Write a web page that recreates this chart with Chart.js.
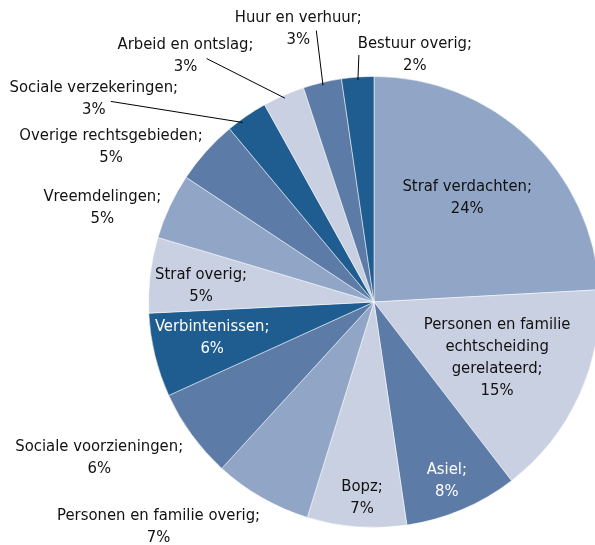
<!DOCTYPE html>
<html>
<head>
<meta charset="utf-8">
<script src="https://cdn.jsdelivr.net/npm/chart.js@4.4.0/dist/chart.umd.min.js"></script>
<style>
  html, body { margin: 0; padding: 0; background: #fff; overflow: hidden; width: 595px; height: 545px; }
  canvas { position: absolute; left: 0; top: 0; }
</style>
</head>
<body>
<canvas id="pie" width="748" height="604"></canvas>
<script>
// categories (each entry split in the lines as shown in the chart)
const categories = [
    ["Straf verdachten;"],
    ["Personen en familie", "echtscheiding", "gerelateerd;"],
    ["Asiel;"],
    ["Bopz;"],
    ["Personen en familie overig;"],
    ["Sociale voorzieningen;"],
    ["Verbintenissen;"],
    ["Straf overig;"],
    ["Vreemdelingen;"],
    ["Overige rechtsgebieden;"],
    ["Sociale verzekeringen;"],
    ["Arbeid en ontslag;"],
    ["Huur en verhuur;"],
    ["Bestuur overig;"],
];
const shares = [24.1, 15.4, 8.1, 7.1, 7.0, 6.4, 6.0, 5.4, 4.7, 4.6, 3.0, 3.0, 2.75, 2.3];
const shareLabels = ["24%", "15%", "8%", "7%", "7%", "6%", "6%", "5%", "5%", "5%", "3%", "3%", "3%", "2%"];

const LIGHT = "#c8d0e2", STEEL = "#91a5c6", MID = "#5c7ba7", DARK = "#1f5c8f";
const sliceColors = [STEEL, LIGHT, MID, LIGHT, STEEL, MID, DARK, LIGHT, STEEL, MID, DARK, LIGHT, MID, DARK];

// where each label sits: angle (deg, clockwise from top), distance in radii,
// optional leader line end relative to the label centre (tip = angle where it touches the pie)
const placement = [
    { a: 41.8, d: 0.62 },
    { a: 114.5, d: 0.60 },
    { a: 157.8, d: 0.855, white: true },
    { a: 183.5, d: 0.87 },
    { a: 223.8, d: 1.38 },
    { a: 240.5, d: 1.40 },
    { a: 257.5, d: 0.735, white: true },
    { a: 275.3, d: 0.77 },
    { a: 289.1, d: 1.275 },
    { a: 300.6, d: 1.355 },
    { a: 306.0, d: 1.536, line: [17, 3], tip: 323.8 },
    { a: 322.6, d: 1.376, line: [21, 3] },
    { a: 344.5, d: 1.256, line: [18, 1.5] },
    { a: 9.4, d: 1.11, line: [-56, 0] },
];

const sliceLabels = {
    id: "sliceLabels",
    afterDatasetsDraw(chart) {
        const ctx = chart.ctx;
        const meta = chart.getDatasetMeta(0);
        ctx.save();
        ctx.font = '16.5px "DejaVu Sans Condensed", "DejaVu Sans", sans-serif';
        ctx.textAlign = "center";
        ctx.textBaseline = "middle";
        ctx.strokeStyle = "#000";
        ctx.lineWidth = 1;
        const lineHeight = 22;
        meta.data.forEach((arc, i) => {
            const p = placement[i];
            const R = arc.outerRadius;
            const ang = (p.a - 90) * Math.PI / 180;
            const cx = arc.x + Math.cos(ang) * R * p.d;
            const cy = arc.y + Math.sin(ang) * R * p.d;
            const lines = [...categories[i], shareLabels[i]];
            ctx.fillStyle = p.white ? "#ffffff" : "#111111";
            lines.forEach((t, k) => {
                ctx.fillText(t, cx, cy + (k - (lines.length - 1) / 2) * lineHeight);
            });
            if (p.line) {
                const mid = p.tip !== undefined ? (p.tip - 90) * Math.PI / 180
                                                : (arc.startAngle + arc.endAngle) / 2;
                ctx.beginPath();
                ctx.moveTo(arc.x + Math.cos(mid) * (R - 3), arc.y + Math.sin(mid) * (R - 3));
                ctx.lineTo(cx + p.line[0], cy + p.line[1]);
                ctx.stroke();
            }
        });
        ctx.restore();
    }
};

new Chart(document.getElementById("pie"), {
    type: "pie",
    data: {
        labels: categories,
        datasets: [{
            data: shares,
            backgroundColor: sliceColors,
            borderColor: "rgba(255,255,255,0.5)",
            borderWidth: 1,
        }],
    },
    options: {
        responsive: false,
        animation: false,
        devicePixelRatio: 1,
        layout: { padding: { left: 148, right: 148, top: 76, bottom: 76 } },
        plugins: {
            legend: { display: false },
            tooltip: { enabled: false },
        },
    },
    plugins: [sliceLabels],
});
</script>
</body>
</html>
